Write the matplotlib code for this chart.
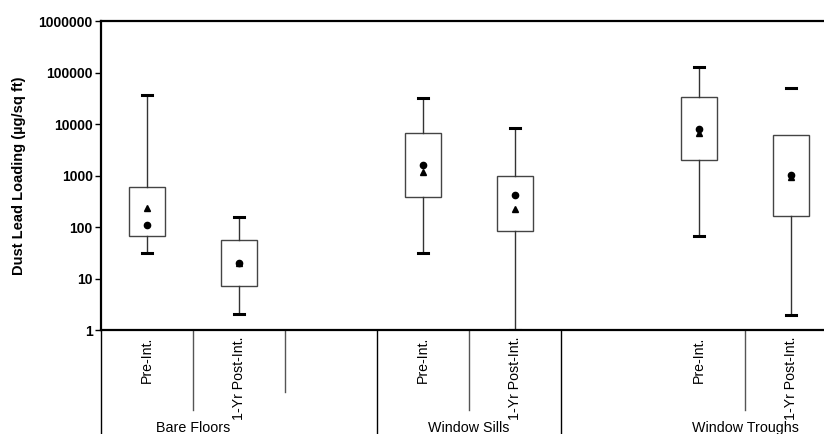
import numpy as np
import matplotlib
matplotlib.use('Agg')
import matplotlib.pyplot as plt
import matplotlib.transforms as mtransforms

plt.rcParams['font.family'] = ['Liberation Sans', 'DejaVu Sans']

# data (dust lead loading, ug/sq ft)
positions = [1, 2, 4, 5, 7, 8]
cat_labels = ['Pre-Int.', '1-Yr Post-Int.'] * 3
groups = ['Bare Floors', 'Window Sills', 'Window Troughs']
group_pos = [1.5, 4.5, 7.5]
whis_lo = [31, 2.0, 31, 1.0, 66, 1.95]
q1 = [66, 7.2, 383, 84, 2000, 166]
q3 = [605, 55, 6780, 990, 33400, 6030]
whis_hi = [36600, 158, 31600, 8360, 130000, 49300]
circles = [109, 19.7, 1620, 418, 8100, 1020]
triangles = [231, 19.7, 1150, 220, 6600, 948]

fig = plt.figure(figsize=(8.24, 4.34), dpi=100)
ax = fig.add_axes([101 / 824, 104 / 434, 1 - 101 / 824, 309 / 434])

stats = []
for i in range(len(positions)):
    stats.append({'whislo': whis_lo[i], 'q1': q1[i], 'med': np.sqrt(q1[i] * q3[i]),
                  'q3': q3[i], 'whishi': whis_hi[i], 'fliers': []})

bp = ax.bxp(stats, positions=positions, widths=0.39, capwidths=0.11,
            showfliers=False, patch_artist=True,
            boxprops=dict(facecolor='white', edgecolor='#444444', linewidth=1.0),
            whiskerprops=dict(color='#333333', linewidth=1.0),
            capprops=dict(color='black', linewidth=2.2),
            medianprops=dict(linewidth=0))
# last box has no line up to its top cap
bp['whiskers'][-1].set_visible(False)

ax.plot(positions, circles, 'o', color='black', markersize=4.5, zorder=5)
ax.plot(positions, triangles, '^', color='black', markersize=4.5, zorder=5)

ax.set_yscale('log')
ax.set_ylim(1, 1e6)
ax.set_xlim(0.5, 0.5 + 723 / 92)
ax.set_yticks([1, 10, 100, 1000, 10000, 100000, 1000000])
ax.set_yticklabels(['1', '10', '100', '1000', '10000', '100000', '1000000'],
                   fontweight='bold', fontsize=10)
ax.yaxis.set_minor_locator(matplotlib.ticker.NullLocator())
ax.tick_params(axis='y', length=4, width=1, pad=2)
ax.set_xticks([])
ax.set_ylabel('Dust Lead Loading (µg/sq ft)', fontweight='bold', fontsize=10.5, labelpad=9)

for s in ['top', 'bottom', 'left']:
    ax.spines[s].set_linewidth(1.6)
ax.spines['right'].set_visible(False)

# category table under the axis
trans = mtransforms.blended_transform_factory(ax.transData, ax.transAxes)
ax.plot([0.5, 0.5], [0, -0.4], color='black', lw=1.0, transform=trans, clip_on=False)
for x in [3.5, 5.5]:
    ax.plot([x, x], [0, -0.4], color='black', lw=1.0, transform=trans, clip_on=False)
for x in [1.5, 4.5, 7.5]:
    ax.plot([x, x], [0, -0.259], color='#555555', lw=1.0, transform=trans, clip_on=False)
ax.plot([2.5, 2.5], [0, -0.2], color='#555555', lw=1.0, transform=trans, clip_on=False)

for x, lab in zip(positions, cat_labels):
    ax.text(x, -0.02, lab, rotation=90, ha='center', va='top', fontsize=10.2,
            transform=trans, clip_on=False)
for x, lab in zip(group_pos, groups):
    ax.text(x, -0.318, lab, ha='center', va='center', fontsize=10.3,
            transform=trans, clip_on=False)

fig.savefig('out.png', dpi=100)
